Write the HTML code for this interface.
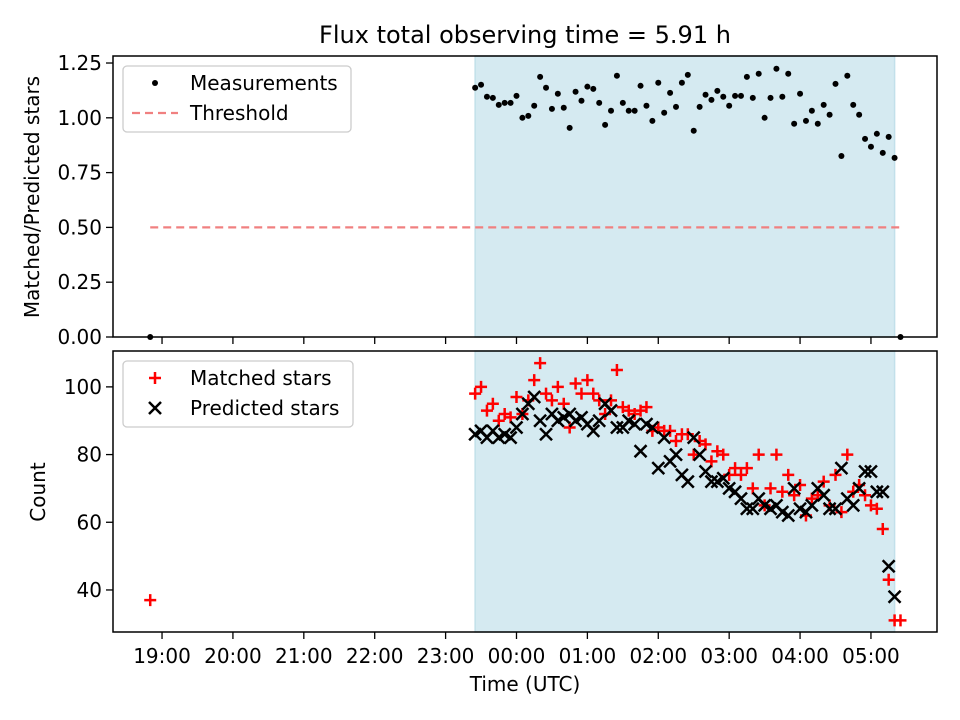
<!DOCTYPE html>
<html><head><meta charset="utf-8"><style>
html,body{margin:0;padding:0;background:#fff}
svg{display:block}
text{font-family:"DejaVu Sans","Liberation Sans",sans-serif;fill:#000}
</style></head><body>
<svg id="chart" width="960" height="720" xmlns="http://www.w3.org/2000/svg">
<text x="525" y="43" font-size="24" text-anchor="middle">Flux total observing time = 5.91 h</text>
<g id="top"></g>
<g id="bot"></g>
<text x="525" y="691" font-size="20" text-anchor="middle">Time (UTC)</text>
<text transform="translate(39,197) rotate(-90)" font-size="20" text-anchor="middle">Matched/Predicted stars</text>
<text transform="translate(45,492) rotate(-90)" font-size="20" text-anchor="middle">Count</text>
</svg>
<script>
// minutes after 19:00 UTC
const times=[265,270,275,280,285,290,295,300,305,310,315,320,325,330,335,340,345,350,355,360,365,370,375,380,385,390,395,400,405,410,415,420,425,430,435,440,445,450,455,460,465,470,475,480,485,490,495,500,505,510,515,520,525,530,535,540,545,550,555,560,565,570,575,580,585,590,595,600,605,610,615,620];
const ratio=[1.137,1.151,1.096,1.091,1.059,1.068,1.068,1.100,1.000,1.009,1.055,1.187,1.137,1.041,1.110,1.046,0.954,1.119,1.078,1.142,1.132,1.068,0.968,1.032,1.192,1.068,1.032,1.032,1.146,1.055,0.986,1.160,1.023,1.114,1.050,1.160,1.196,0.941,1.050,1.105,1.082,1.123,1.096,1.055,1.100,1.100,1.187,1.091,1.201,1.000,1.091,1.224,1.096,1.201,0.973,1.110,0.986,1.032,0.973,1.059,1.014,1.155,0.826,1.192,1.059,1.014,0.904,0.868,0.927,0.840,0.913,0.817];
const predicted=[86,87,85,87,85,86,85,88,92,95,97,90,86,92,90,91,92,90,91,89,87,90,95,93,88,88,90,89,81,89,88,76,85,78,80,74,72,85,80,75,72,72,73,70,69,67,64,64,67,65,64,65,63,62,70,64,63,65,70,68,64,64,76,67,65,70,75,75,69,69,47,38];
const matched=[98,100,93,95,90,92,91,97,92,96,102,107,98,96,100,95,88,101,98,102,98,96,92,96,105,94,93,92,93,94,87,88,87,87,84,86,86,80,84,83,78,81,80,74,76,74,76,70,80,65,70,80,69,74,68,71,62,67,68,72,65,74,63,80,69,71,68,65,64,58,43,31];
const extraTimes=[-10,625];
const extraRatio=[0,0];
const extraMatched=[37,31];
const threshold=0.5, thrStart=-10, thrEnd=625;
const shadeStart=265, shadeEnd=620;
const xTicks=[0,60,120,180,240,300,360,420,480,540,600];
const xTickLabels=["19:00","20:00","21:00","22:00","23:00","00:00","01:00","02:00","03:00","04:00","05:00"];
const topTicks=[0,0.25,0.5,0.75,1.0,1.25];
const topTickLabels=["0.00","0.25","0.50","0.75","1.00","1.25"];
const botTicks=[40,60,80,100];
const botTickLabels=["40","60","80","100"];

const NS="http://www.w3.org/2000/svg";
const L=113,R=937;
const xmin=-41.5,xmax=655.9;
const X=m=>L+(m-xmin)/(xmax-xmin)*(R-L);
const T={top:56,bot:337,min:0,max:1.282};
const B={top:351,bot:632,min:27.58,max:110.6};
const Yt=v=>T.bot-(v-T.min)/(T.max-T.min)*(T.bot-T.top);
const Yb=v=>B.bot-(v-B.min)/(B.max-B.min)*(B.bot-B.top);
function mk(p,tag,at){const e=document.createElementNS(NS,tag);for(const k in at)e.setAttribute(k,at[k]);p.appendChild(e);return e;}
const gt=document.getElementById('top'),gb=document.getElementById('bot');

function axes(g,A,Y,ticks,labels,pfx){
  let s=mk(g,'rect',{x:X(shadeStart),y:A.top,width:X(shadeEnd)-X(shadeStart),height:A.bot-A.top,fill:'#d5eaf1',stroke:'#c2e0ea','stroke-width':1.5});
  
  
  ticks.forEach((t,i)=>{
    const y=Y(t);
    let l=mk(g,'line',{x1:L-7,x2:L,y1:y,y2:y,stroke:'#000','stroke-width':1.3});
    
    
    let tx=mk(g,'text',{x:L-11,y:y+7,'font-size':20,'text-anchor':'end'});tx.textContent=labels[i];
    
    
  });
  xTicks.forEach((t,i)=>{
    let l=mk(g,'line',{x1:X(t),x2:X(t),y1:A.bot,y2:A.bot+7,stroke:'#000','stroke-width':1.3});
    
    
    if(pfx==='bottom'){
      let tx=mk(g,'text',{x:X(t),y:A.bot+31,'font-size':20,'text-anchor':'middle'});tx.textContent=xTickLabels[i];
      
      
    }
  });
}
axes(gt,T,Yt,topTicks,topTickLabels,'top');
axes(gb,B,Yb,botTicks,botTickLabels,'bottom');

// top panel
let th=mk(gt,'line',{x1:X(thrStart),x2:X(thrEnd),y1:Yt(threshold),y2:Yt(threshold),stroke:'#f08080','stroke-width':2.2,'stroke-dasharray':'8,5'});


times.concat(extraTimes).forEach((t,i)=>{
  const v=i<times.length?ratio[i]:extraRatio[i-times.length];
  let c=mk(gt,'circle',{cx:X(t),cy:Yt(v),r:3,fill:'#000'});
  
  
});
// bottom panel
function plus(t,v){const x=X(t),y=Yb(v);
  let p=mk(gb,'path',{d:`M${x-6},${y}H${x+6}M${x},${y-6}V${y+6}`,stroke:'#f00','stroke-width':2.5,fill:'none'});
  
  }
times.forEach((t,i)=>plus(t,matched[i]));
extraTimes.forEach((t,i)=>plus(t,extraMatched[i]));
times.forEach((t,i)=>{const x=X(t),y=Yb(predicted[i]);
  let p=mk(gb,'path',{d:`M${x-6},${y-6}L${x+6},${y+6}M${x-6},${y+6}L${x+6},${y-6}`,stroke:'#000','stroke-width':2.5,fill:'none'});
  
  });

// frames
[[gt,T],[gb,B]].forEach(([g,A],k)=>{
  let r=mk(g,'rect',{x:L,y:A.top,width:R-L,height:A.bot-A.top,fill:'none',stroke:'#000','stroke-width':1.5});
  
  
});

// legends
function legend(g,y0,w,items,nm){
  let lg=mk(g,'g',{});
  
  
  mk(lg,'rect',{x:123,y:y0,width:w,height:66,rx:4,fill:'#fff','fill-opacity':0.85,stroke:'#ccc','stroke-width':1.3});
  items.forEach((it,i)=>{
    const y=y0+17+i*30;
    it.draw(lg,155,y);
    let tx=mk(lg,'text',{x:190,y:y+7,'font-size':20});tx.textContent=it.label;
    
    
  });
}
legend(gt,66,228,[
  {label:'Measurements',draw:(g,x,y)=>mk(g,'circle',{cx:x,cy:y,r:3,fill:'#000'})},
  {label:'Threshold',draw:(g,x,y)=>mk(g,'line',{x1:x-23,x2:x+23,y1:y,y2:y,stroke:'#f08080','stroke-width':2.2,'stroke-dasharray':'8,5'})}
],'top-legend');
legend(gb,361,230,[
  {label:'Matched stars',draw:(g,x,y)=>mk(g,'path',{d:`M${x-6},${y}H${x+6}M${x},${y-6}V${y+6}`,stroke:'#f00','stroke-width':2.5})},
  {label:'Predicted stars',draw:(g,x,y)=>mk(g,'path',{d:`M${x-6},${y-6}L${x+6},${y+6}M${x-6},${y+6}L${x+6},${y-6}`,stroke:'#000','stroke-width':2.5})}
],'bottom-legend');
</script>
</body></html>
